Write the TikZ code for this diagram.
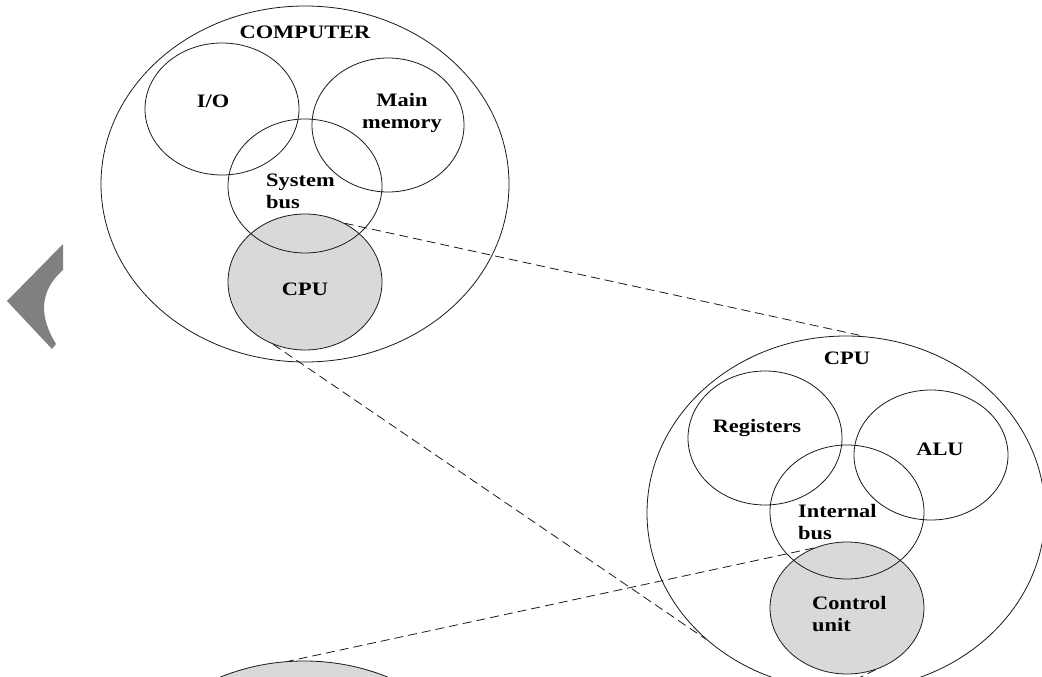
\documentclass[tikz,border=0pt]{standalone}
\usepackage{fontspec}
\setmainfont{Liberation Serif}[FakeStretch=1.18]
\usetikzlibrary{shapes.geometric}
\definecolor{fillgray}{HTML}{D9D9D9}
\definecolor{chevgray}{HTML}{808080}
\definecolor{linegray}{HTML}{1A1A1A}
\tikzset{
  venn/.style={ellipse, draw=linegray, line width=0.8pt, inner sep=0pt},
  shaded/.style={venn, fill=fillgray},
  lbl/.style={font=\bfseries\fontsize{19}{22}\selectfont, text=black, inner sep=0pt},
  zoomline/.style={draw=linegray, line width=0.8pt, dash pattern=on 9pt off 5pt}
}
\begin{document}
\begin{tikzpicture}[x=1pt, y=-1pt]
\useasboundingbox (0,0) rectangle (1042,677);
\clip (0,0) rectangle (1042,677);
% chevron fragment
\fill[chevgray] (63,244) -- (7,301) -- (52,349) -- (56,344) .. controls (40,318) and (38,292) .. (63,270) -- cycle;
% first level
\node[venn, minimum width=408pt, minimum height=356pt] (computer) at (305,184) {};
\node[shaded, minimum width=154pt, minimum height=136pt] (cpu) at (305,282) {};
\node[venn, minimum width=154pt, minimum height=132pt] (io) at (222,109) {};
\node[venn, minimum width=152pt, minimum height=134pt] (mem) at (388,125) {};
\node[venn, minimum width=154pt, minimum height=134pt] (sysbus) at (305,186) {};
% second level
\node[venn, minimum width=398pt, minimum height=354pt] (bigcpu) at (846,513) {};
\node[shaded, minimum width=154pt, minimum height=132pt] (cu) at (847,608) {};
\node[venn, minimum width=154pt, minimum height=134pt] (reg) at (765,438) {};
\node[venn, minimum width=154pt, minimum height=130pt] (alu) at (931,455) {};
\node[venn, minimum width=154pt, minimum height=134pt] (ibus) at (847,512) {};
% third level (cut off)
\node[shaded, minimum width=398pt, minimum height=348pt] (bottom) at (304,835) {};
% labels
\node[lbl] (tcomputer) at (305,32) {COMPUTER};
\node[lbl] (tio) at (213,101) {I/O};
\node[lbl, align=center] (tmem) at (402,113) {Main\\memory};
\node[lbl, align=left, anchor=west] (tsys) at (266,191) {System\\bus};
\node[lbl] (tcpu) at (305,289) {CPU};
\node[lbl] (tbigcpu) at (847,358) {CPU};
\node[lbl] (treg) at (757,428) {Registers};
\node[lbl] (talu) at (940,449) {ALU};
\node[lbl, align=left, anchor=west] (tibus) at (798,522) {Internal\\bus};
\node[lbl, align=left, anchor=west] (tcu) at (812,614) {Control\\unit};
% zoom connectors
\draw[zoomline] (cpu.56) -- (bigcpu.84);
\draw[zoomline] (cpu.-117) -- (bigcpu.222.7);
\draw[zoomline] (cu.119) -- (bottom.95.6);
\draw[zoomline] (cu.-65) -- (bottom.-5);
\end{tikzpicture}
\end{document}
